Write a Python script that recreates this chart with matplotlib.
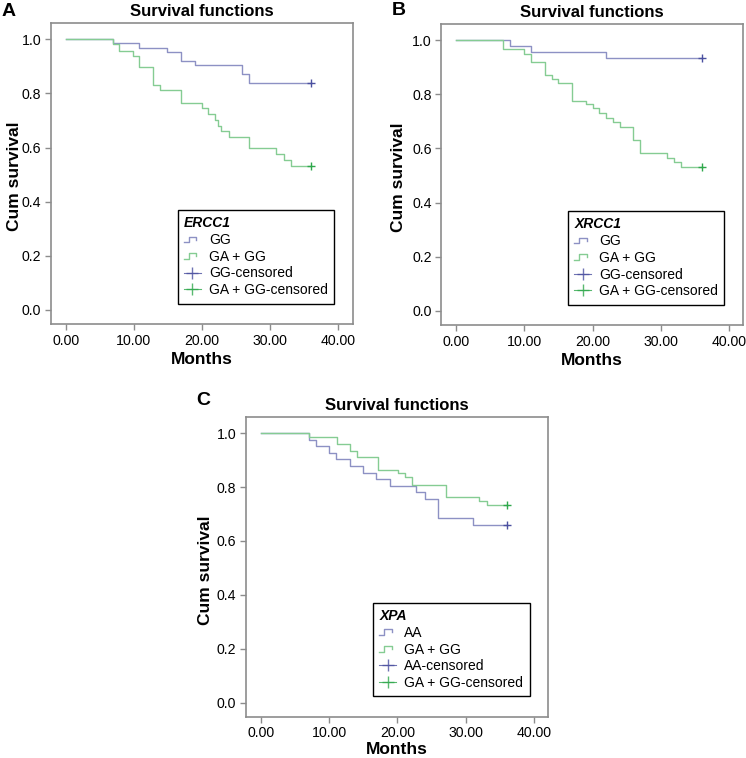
import matplotlib.pyplot as plt
from matplotlib.legend_handler import HandlerBase
from matplotlib.lines import Line2D

plt.rcParams['font.family'] = ['Liberation Sans', 'DejaVu Sans']

# Panel A - ERCC1
a_gg_t = [0, 6.9, 10.8, 14.9, 16.9, 18.9, 25.9, 26.9, 36.0]
a_gg_s = [1.0, 0.986, 0.968, 0.952, 0.921, 0.904, 0.871, 0.837, 0.837]
a_ga_t = [0, 6.9, 7.8, 9.8, 10.8, 12.8, 13.8, 16.9, 20.0, 20.9, 21.9, 22.4, 22.8, 23.9, 26.9, 30.9, 32.0, 33.0, 36.0]
a_ga_s = [1.0, 0.983, 0.958, 0.938, 0.896, 0.831, 0.811, 0.766, 0.745, 0.724, 0.702, 0.681, 0.660, 0.638, 0.597, 0.577, 0.554, 0.533, 0.533]

# Panel B - XRCC1
b_gg_t = [0, 7.9, 11.0, 22.0, 36.0]
b_gg_s = [1.0, 0.980, 0.957, 0.935, 0.935]
b_ga_t = [0, 6.8, 10.0, 11.0, 13.0, 14.0, 15.0, 17.0, 19.0, 20.0, 21.0, 22.0, 23.0, 24.0, 25.9, 26.9, 31.0, 32.0, 33.0, 36.0]
b_ga_s = [1.0, 0.966, 0.950, 0.918, 0.872, 0.855, 0.840, 0.776, 0.763, 0.748, 0.731, 0.714, 0.697, 0.680, 0.631, 0.582, 0.566, 0.550, 0.533, 0.533]

# Panel C - XPA
c_aa_t = [0, 7.1, 8.1, 10.0, 11.0, 13.0, 15.0, 16.9, 18.9, 22.8, 24.0, 26.0, 31.1, 36.0]
c_aa_s = [1.0, 0.975, 0.951, 0.928, 0.905, 0.879, 0.853, 0.829, 0.805, 0.780, 0.756, 0.686, 0.660, 0.660]
c_ga_t = [0, 7.1, 11.1, 13.0, 14.1, 17.1, 20.1, 21.1, 22.1, 27.1, 32.0, 33.1, 36.0]
c_ga_s = [1.0, 0.986, 0.958, 0.935, 0.911, 0.865, 0.851, 0.836, 0.806, 0.762, 0.749, 0.732, 0.732]

x_ticks = [0, 10, 20, 30, 40]
y_ticks = [0.0, 0.2, 0.4, 0.6, 0.8, 1.0]

blue_line = '#8d91c4'
green_line = '#85cc93'
blue_cens = '#4b50a0'
green_cens = '#2fa84c'


class StepHandler(HandlerBase):
    def create_artists(self, legend, orig_handle, xdescent, ydescent, width, height, fontsize, trans):
        w, h = width, height
        xs = [-xdescent, -xdescent + 0.3 * w, -xdescent + 0.3 * w, -xdescent + 0.75 * w, -xdescent + 0.75 * w]
        ys = [0.2 * h, 0.2 * h, 0.75 * h, 0.75 * h, 0.45 * h]
        line = Line2D(xs, ys, color=orig_handle.get_color(), lw=1.0)
        line.set_transform(trans)
        return [line]


def draw_panel(ax, gene, lab1, t1, s1, t2, s2, ylab_x, xlab_y):
    ax.step(t1, s1, where='post', color=blue_line, lw=1.0)
    ax.step(t2, s2, where='post', color=green_line, lw=1.0)
    ax.plot(t1[-1], s1[-1], marker='+', color=blue_cens, ms=6, mew=1.0)
    ax.plot(t2[-1], s2[-1], marker='+', color=green_cens, ms=6, mew=1.0)

    ax.set_xlim(-2.2, 42.1)
    ax.set_ylim(-0.052, 1.059)
    ax.set_xticks(x_ticks)
    ax.set_xticklabels([f'{v:.2f}' for v in x_ticks])
    ax.set_yticks(y_ticks)
    ax.set_yticklabels([f'{v:.1f}' for v in y_ticks])
    ax.tick_params(direction='out', length=4, width=1.0, color='#8c8c8c', labelsize=10.2, pad=3)
    for sp in ax.spines.values():
        sp.set_color('#8c8c8c')
        sp.set_linewidth(1.2)

    ax.set_title('Survival functions', fontsize=12, fontweight='bold', pad=5)
    ax.set_xlabel('Months', fontsize=12.5, fontweight='bold')
    ax.xaxis.set_label_coords(0.5, xlab_y)
    ax.set_ylabel('Cum survival', fontsize=12.5, fontweight='bold')
    ax.yaxis.set_label_coords(ylab_x, 0.49)

    h1 = Line2D([], [], color=blue_line)
    h2 = Line2D([], [], color=green_line)
    h3 = Line2D([], [], color=blue_cens, marker='+', ms=8, lw=0.8, alpha=0.8)
    h4 = Line2D([], [], color=green_cens, marker='+', ms=8, lw=0.8, alpha=0.8)
    leg = ax.legend([h1, h2, h3, h4], [lab1, 'GA + GG', lab1 + '-censored', 'GA + GG-censored'],
                    title=gene, loc='lower right', bbox_to_anchor=(0.938, 0.068),
                    handler_map={h1: StepHandler(), h2: StepHandler()},
                    fontsize=10, title_fontproperties={'style': 'italic', 'weight': 'bold', 'size': 10},
                    alignment='left', fancybox=False, framealpha=1, edgecolor='black',
                    handlelength=1.2, handletextpad=0.6, labelspacing=0.2, borderpad=0.45,
                    borderaxespad=0)
    leg.get_frame().set_linewidth(1.0)


fig = plt.figure(figsize=(7.46, 7.58), dpi=100)
ax_a = fig.add_axes([0.068, 0.5726, 0.4048, 0.3967])
ax_b = fig.add_axes([0.5916, 0.5712, 0.4045, 0.397])
ax_c = fig.add_axes([0.3294, 0.0545, 0.4056, 0.395])

draw_panel(ax_a, 'ERCC1', 'GG', a_gg_t, a_gg_s, a_ga_t, a_ga_s, -0.096, -0.093)
draw_panel(ax_b, 'XRCC1', 'GG', b_gg_t, b_gg_s, b_ga_t, b_ga_s, -0.116, -0.093)
draw_panel(ax_c, 'XPA', 'AA', c_aa_t, c_aa_s, c_ga_t, c_ga_s, -0.108, -0.085)

# panel letters
fig.text(2 / 746, 1 - 3 / 758, 'A', fontsize=14, fontweight='bold', va='top')
fig.text(392 / 746, 1 - 2 / 758, 'B', fontsize=14, fontweight='bold', va='top')
fig.text(196 / 746, 1 - 392 / 758, 'C', fontsize=14, fontweight='bold', va='top')

fig.savefig('out.png', dpi=100)
